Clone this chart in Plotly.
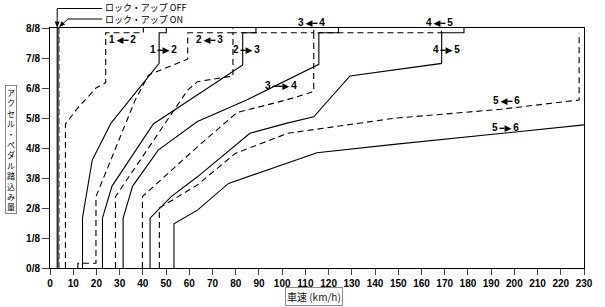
import plotly.graph_objects as go

# ---------------- data ----------------
tick_x = list(range(0, 231, 10))
tick_y = [0, 1, 2, 3, 4, 5, 6, 7, 8]
tick_y_text = [f"{i}/8" for i in tick_y]

lockup_off_speed = [3.3, 3.3]
lockup_off_thr = [0, 8]
lockup_on_speed = [3.9, 3.9]
lockup_on_thr = [0, 8]

up12_speed = [14.0, 14.0, 18.2, 26.3, 47.0, 47.0, 50.1, 50.1]
up12_thr = [0, 1.67, 3.6, 4.83, 6.82, 7.84, 7.84, 8]
down12_speed = [6.65, 6.65, 11.9, 19.8, 24.0, 24.0, 40.2, 40.2]
down12_thr = [0, 4.8, 5.33, 6.0, 6.18, 7.84, 7.84, 8]

up23_speed = [22.6, 22.6, 26.7, 44.5, 83.0, 83.0, 88.7, 88.7]
up23_thr = [0, 1.66, 2.73, 4.8, 6.77, 7.84, 7.84, 8]
down23_speed = [12.0, 12.0, 19.8, 19.8, 36.7, 42.4, 59.3, 59.3, 78.8, 78.8]
down23_thr = [0, 0.16, 0.16, 2.38, 5.6, 6.43, 6.96, 7.84, 7.84, 8]

up34_speed = [31.5, 31.5, 35.6, 46.6, 63.5, 84.7, 115.8, 115.8, 124.2, 124.2]
up34_thr = [0, 1.66, 2.73, 3.93, 4.88, 5.6, 6.79, 7.84, 7.84, 8]
down34_speed = [28.2, 28.2, 54.9, 59.3, 63.5, 78.8, 78.8, 113.6, 113.6]
down34_thr = [0, 2.38, 5.43, 5.93, 6.21, 6.4, 7.84, 7.84, 8]

up45_speed = [43.1, 43.1, 52.2, 63.5, 86.1, 101.7, 113.6, 120.0, 129.2, 168.7, 168.7, 178.3, 178.3]
up45_thr = [0, 1.66, 2.38, 3.04, 4.49, 4.82, 5.04, 5.6, 6.4, 6.82, 7.84, 7.84, 8]
down45_speed = [39.8, 39.8, 63.5, 80.5, 101.7, 113.6, 113.6, 168.6, 168.6]
down45_thr = [0, 2.38, 4.04, 5.18, 5.6, 5.88, 7.84, 7.84, 8]

up56_speed = [53.4, 53.4, 63.5, 76.9, 115.0, 148.2, 230]
up56_thr = [0, 1.47, 1.93, 2.82, 3.84, 4.12, 4.77]
down56_speed = [47.1, 47.1, 63.5, 79.8, 102.4, 148.2, 194.0, 227.9, 227.9]
down56_thr = [0, 2.0, 2.77, 3.82, 4.49, 4.99, 5.29, 5.6, 7.84]

shift_from = ["1", "1", "2", "2", "3", "3", "4", "4", "5", "5"]
shift_to = ["2", "2", "3", "3", "4", "4", "5", "5", "6", "6"]
shift_dir = ["down", "up", "down", "up", "down", "up", "down", "up", "down", "up"]
label_speed = [31.3, 48.7, 68.5, 84.7, 112.7, 99.4, 167.7, 170.6, 196.5, 196.4]
label_thr = [7.62, 7.27, 7.62, 7.27, 8.18, 6.08, 8.18, 7.27, 5.57, 4.68]

lockup_off_text = "ロック・アップ OFF"
lockup_on_text = "ロック・アップ ON"
y_title = "アクセル・ペダル踏込み量"
x_title = "車速 (km/h)"

# ---------------- figure ----------------
W, H = 605, 307
L, R, T, B = 50, 12, 28, 39
PW, PH = W - L - R, H - T - B
XMAX, YMAX = 230, 8


def px(x):
    return (x - L) / PW


def py(y):
    return (H - B - y) / PH


fig = go.Figure()

solid = dict(color="black", width=1.1)
dashed = dict(color="black", width=1.1, dash="6px,4px")

fig.add_trace(go.Scatter(x=lockup_off_speed, y=lockup_off_thr, mode="lines",
                         line=dict(color="#333", width=2.2)))
fig.add_trace(go.Scatter(x=lockup_on_speed, y=lockup_on_thr, mode="lines",
                         line=dict(color="#555", width=1.2, dash="6px,3px")))

for xs, ys in [(up12_speed, up12_thr), (up23_speed, up23_thr), (up34_speed, up34_thr),
               (up45_speed, up45_thr), (up56_speed, up56_thr)]:
    fig.add_trace(go.Scatter(x=xs, y=ys, mode="lines", line=solid))
for xs, ys in [(down12_speed, down12_thr), (down23_speed, down23_thr),
               (down34_speed, down34_thr), (down45_speed, down45_thr),
               (down56_speed, down56_thr)]:
    fig.add_trace(go.Scatter(x=xs, y=ys, mode="lines", line=dashed))

lab_font = dict(family="Liberation Sans, DejaVu Sans", size=10, color="black", weight="bold")
annotations = []
for a, b, d, xs, ys in zip(shift_from, shift_to, shift_dir, label_speed, label_thr):
    if d == "down":
        arrow = "<span style='font-size:9px'>◀</span><span style='font-size:8px'>━</span>"
    else:
        arrow = "<span style='font-size:8px'>━</span><span style='font-size:9px'>▶</span>"
    if a == "3" and d == "up":
        arrow = "<span style='font-size:8px'>━━</span><span style='font-size:9px'>▶</span>"
    text = f"{a}\u2009{arrow}\u2009{b}"
    annotations.append(dict(x=xs / XMAX, y=ys / YMAX, xref="paper", yref="paper",
                            text=text, showarrow=False, font=lab_font,
                            xanchor="center", yanchor="middle"))

jp_font = dict(family="Noto Sans CJK JP, Liberation Sans", size=9, color="black")
annotations.append(dict(x=px(105), y=py(7.2), xref="paper", yref="paper",
                        text=lockup_off_text, showarrow=False, font=jp_font,
                        xanchor="left", yanchor="middle", borderpad=0))
annotations.append(dict(x=px(105), y=py(19.8), xref="paper", yref="paper",
                        text=lockup_on_text, showarrow=False, font=jp_font,
                        xanchor="left", yanchor="middle", borderpad=0))

annotations.append(dict(x=px(10), y=py(149), xref="paper", yref="paper",
                        text="<br>".join(list(y_title)), showarrow=False,
                        font=dict(family="Noto Sans CJK JP", size=8, color="black"),
                        bordercolor="#888", borderwidth=1, borderpad=1,
                        bgcolor="white", xanchor="center", yanchor="middle"))
annotations.append(dict(x=px(318.5), y=py(296), xref="paper", yref="paper",
                        text=x_title, showarrow=False,
                        font=dict(family="Noto Sans CJK JP", size=10, color="#111"),
                        bordercolor="#888", borderwidth=1, borderpad=1,
                        bgcolor="white", xanchor="center", yanchor="middle"))

shapes = []
ln = dict(color="black", width=1)
# lock-up OFF leader
shapes.append(dict(type="line", xref="paper", yref="paper",
                   x0=px(57.3), y0=py(8.5), x1=px(103), y1=py(8.5), line=ln))
shapes.append(dict(type="line", xref="paper", yref="paper",
                   x0=px(57.3), y0=py(8.5), x1=px(57.3), y1=py(22), line=ln))
shapes.append(dict(type="path", xref="paper", yref="paper",
                   path=f"M{px(54.8)},{py(21.5)} L{px(59.8)},{py(21.5)} L{px(57.3)},{py(28)} Z",
                   fillcolor="black", line=dict(width=0)))
# lock-up ON leader
shapes.append(dict(type="line", xref="paper", yref="paper",
                   x0=px(68.3), y0=py(19), x1=px(103), y1=py(19), line=ln))
shapes.append(dict(type="line", xref="paper", yref="paper",
                   x0=px(68.3), y0=py(19), x1=px(63.6), y1=py(23.2), line=ln))
shapes.append(dict(type="path", xref="paper", yref="paper",
                   path=f"M{px(65.3)},{py(24.6)} L{px(61.9)},{py(21.0)} L{px(59.3)},{py(27.2)} Z",
                   fillcolor="black", line=dict(width=0)))

tick_font = dict(family="Liberation Sans", size=10, color="black", weight="bold")
fig.update_layout(
    width=W, height=H, margin=dict(l=L, r=R, t=T, b=B, pad=0),
    paper_bgcolor="white", plot_bgcolor="white", showlegend=False,
    annotations=annotations, shapes=shapes,
    xaxis=dict(range=[0, XMAX], tickvals=tick_x, ticktext=[str(v) for v in tick_x],
               ticks="outside", ticklen=6, tickcolor="#444", tickwidth=1,
               showline=True, linecolor="black", linewidth=1, mirror=True,
               showgrid=False, zeroline=False, tickfont=tick_font, fixedrange=True),
    yaxis=dict(range=[0, YMAX], tickvals=tick_y, ticktext=tick_y_text,
               ticks="outside", ticklen=7, tickcolor="#444", tickwidth=1,
               showline=True, linecolor="black", linewidth=1, mirror=True,
               showgrid=False, zeroline=False, tickfont=tick_font, fixedrange=True),
)

fig.write_html("out.html")
